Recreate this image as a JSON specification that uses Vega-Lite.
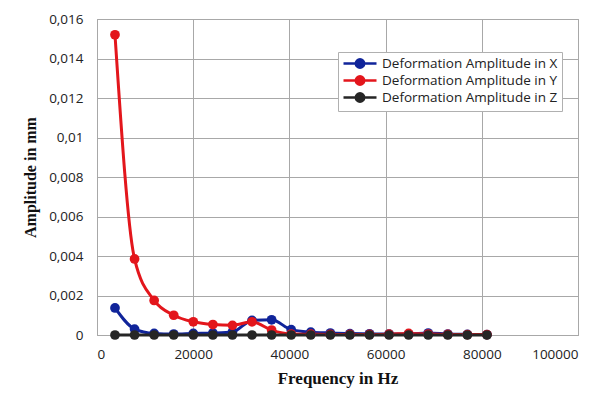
{
  "$schema": "https://vega.github.io/schema/vega-lite/v6.json",
  "width": 481,
  "height": 316,
  "autosize": "none",
  "padding": {"left": 97, "top": 19, "right": 24, "bottom": 66},
  "background": "white",
  "config": {
    "view": {"stroke": "#9a9a9a", "strokeWidth": 1},
    "font": "Open Sans"
  },
  "data": {
    "values": [
      {"freq": 3740, "amp": 0.00137, "series": "Deformation Amplitude in X"},
      {"freq": 7810, "amp": 0.0003, "series": "Deformation Amplitude in X"},
      {"freq": 11880, "amp": 0.00008, "series": "Deformation Amplitude in X"},
      {"freq": 15950, "amp": 0.00005, "series": "Deformation Amplitude in X"},
      {"freq": 20020, "amp": 0.00008, "series": "Deformation Amplitude in X"},
      {"freq": 24090, "amp": 0.0001, "series": "Deformation Amplitude in X"},
      {"freq": 28160, "amp": 0.00015, "series": "Deformation Amplitude in X"},
      {"freq": 32230, "amp": 0.00074, "series": "Deformation Amplitude in X"},
      {"freq": 36300, "amp": 0.00077, "series": "Deformation Amplitude in X"},
      {"freq": 40370, "amp": 0.00027, "series": "Deformation Amplitude in X"},
      {"freq": 44440, "amp": 0.00014, "series": "Deformation Amplitude in X"},
      {"freq": 48510, "amp": 0.0001, "series": "Deformation Amplitude in X"},
      {"freq": 52580, "amp": 0.00007, "series": "Deformation Amplitude in X"},
      {"freq": 56650, "amp": 0.00006, "series": "Deformation Amplitude in X"},
      {"freq": 60720, "amp": 0.00005, "series": "Deformation Amplitude in X"},
      {"freq": 64790, "amp": 0.00005, "series": "Deformation Amplitude in X"},
      {"freq": 68860, "amp": 0.0001, "series": "Deformation Amplitude in X"},
      {"freq": 72930, "amp": 0.00005, "series": "Deformation Amplitude in X"},
      {"freq": 77000, "amp": 0.00003, "series": "Deformation Amplitude in X"},
      {"freq": 81070, "amp": 0.00002, "series": "Deformation Amplitude in X"},
      {"freq": 3740, "amp": 0.0152, "series": "Deformation Amplitude in Y"},
      {"freq": 7810, "amp": 0.00385, "series": "Deformation Amplitude in Y"},
      {"freq": 11880, "amp": 0.00175, "series": "Deformation Amplitude in Y"},
      {"freq": 15950, "amp": 0.001, "series": "Deformation Amplitude in Y"},
      {"freq": 20020, "amp": 0.00067, "series": "Deformation Amplitude in Y"},
      {"freq": 24090, "amp": 0.00053, "series": "Deformation Amplitude in Y"},
      {"freq": 28160, "amp": 0.00049, "series": "Deformation Amplitude in Y"},
      {"freq": 32230, "amp": 0.00067, "series": "Deformation Amplitude in Y"},
      {"freq": 36300, "amp": 0.00025, "series": "Deformation Amplitude in Y"},
      {"freq": 40370, "amp": 0.00005, "series": "Deformation Amplitude in Y"},
      {"freq": 44440, "amp": 0.00004, "series": "Deformation Amplitude in Y"},
      {"freq": 48510, "amp": 0.00003, "series": "Deformation Amplitude in Y"},
      {"freq": 52580, "amp": 0.00003, "series": "Deformation Amplitude in Y"},
      {"freq": 56650, "amp": 0.00003, "series": "Deformation Amplitude in Y"},
      {"freq": 60720, "amp": 0.00004, "series": "Deformation Amplitude in Y"},
      {"freq": 64790, "amp": 0.00008, "series": "Deformation Amplitude in Y"},
      {"freq": 68860, "amp": 0.00005, "series": "Deformation Amplitude in Y"},
      {"freq": 72930, "amp": 0.00003, "series": "Deformation Amplitude in Y"},
      {"freq": 77000, "amp": 0.00002, "series": "Deformation Amplitude in Y"},
      {"freq": 81070, "amp": 0.00002, "series": "Deformation Amplitude in Y"},
      {"freq": 3740, "amp": 0, "series": "Deformation Amplitude in Z"},
      {"freq": 7810, "amp": 0, "series": "Deformation Amplitude in Z"},
      {"freq": 11880, "amp": 0, "series": "Deformation Amplitude in Z"},
      {"freq": 15950, "amp": 0, "series": "Deformation Amplitude in Z"},
      {"freq": 20020, "amp": 0, "series": "Deformation Amplitude in Z"},
      {"freq": 24090, "amp": 0, "series": "Deformation Amplitude in Z"},
      {"freq": 28160, "amp": 0, "series": "Deformation Amplitude in Z"},
      {"freq": 32230, "amp": 0, "series": "Deformation Amplitude in Z"},
      {"freq": 36300, "amp": 0, "series": "Deformation Amplitude in Z"},
      {"freq": 40370, "amp": 0, "series": "Deformation Amplitude in Z"},
      {"freq": 44440, "amp": 0, "series": "Deformation Amplitude in Z"},
      {"freq": 48510, "amp": 0, "series": "Deformation Amplitude in Z"},
      {"freq": 52580, "amp": 0, "series": "Deformation Amplitude in Z"},
      {"freq": 56650, "amp": 0, "series": "Deformation Amplitude in Z"},
      {"freq": 60720, "amp": 0, "series": "Deformation Amplitude in Z"},
      {"freq": 64790, "amp": 0, "series": "Deformation Amplitude in Z"},
      {"freq": 68860, "amp": 0, "series": "Deformation Amplitude in Z"},
      {"freq": 72930, "amp": 0, "series": "Deformation Amplitude in Z"},
      {"freq": 77000, "amp": 0, "series": "Deformation Amplitude in Z"},
      {"freq": 81070, "amp": 0, "series": "Deformation Amplitude in Z"}
    ]
  },
  "mark": {
    "type": "line",
    "interpolate": "monotone",
    "strokeWidth": 3,
    "point": {"filled": true, "size": 95, "opacity": 1},
    "clip": false
  },
  "encoding": {
    "x": {
      "field": "freq",
      "type": "quantitative",
      "scale": {"domain": [0, 100000], "nice": false},
      "axis": {
        "title": "Frequency in Hz",
        "values": [0, 20000, 40000, 60000, 80000, 100000],
        "format": "d",
        "grid": true,
        "gridColor": "#a8a8a8",
        "gridWidth": 1,
        "domain": false,
        "ticks": false,
        "labelPadding": 12,
        "labelFont": "Open Sans",
        "labelFontSize": 13.5,
        "labelColor": "#222222",
        "titleFont": "Liberation Serif",
        "titleFontSize": 17,
        "titleFontWeight": "bold",
        "titleColor": "#111111",
        "titlePadding": 10
      }
    },
    "y": {
      "field": "amp",
      "type": "quantitative",
      "scale": {"domain": [0, 0.016], "nice": false},
      "axis": {
        "title": "Amplitude in mm",
        "values": [0, 0.002, 0.004, 0.006, 0.008, 0.01, 0.012, 0.014, 0.016],
        "labelExpr": "replace(format(datum.value, '~g'), '.', ',')",
        "grid": true,
        "gridColor": "#a8a8a8",
        "gridWidth": 1,
        "domain": false,
        "ticks": false,
        "labelPadding": 14,
        "labelFont": "Open Sans",
        "labelFontSize": 13.5,
        "labelColor": "#222222",
        "titleFont": "Liberation Serif",
        "titleFontSize": 16,
        "titleFontWeight": "bold",
        "titleColor": "#111111",
        "titlePadding": 10
      }
    },
    "color": {
      "field": "series",
      "type": "nominal",
      "scale": {
        "domain": ["Deformation Amplitude in X", "Deformation Amplitude in Y", "Deformation Amplitude in Z"],
        "range": ["#10249a", "#e3161c", "#262626"]
      },
      "legend": {
        "title": null,
        "orient": "none",
        "legendX": 241,
        "legendY": 33,
        "fillColor": "white",
        "strokeColor": "#b0b0b0",
        "padding": 4,
        "rowPadding": -2,
        "symbolType": "M-1,0L4.5,0M1.05,0a0.7,0.7 0 1,0 1.4,0a0.7,0.7 0 1,0 -1.4,0",
        "symbolSize": 144,
        "symbolStrokeWidth": 2.5,
        "labelFont": "Open Sans",
        "labelFontSize": 13.5,
        "labelColor": "#222222",
        "labelOffset": 25,
        "labelLimit": 300
      }
    }
  }
}
